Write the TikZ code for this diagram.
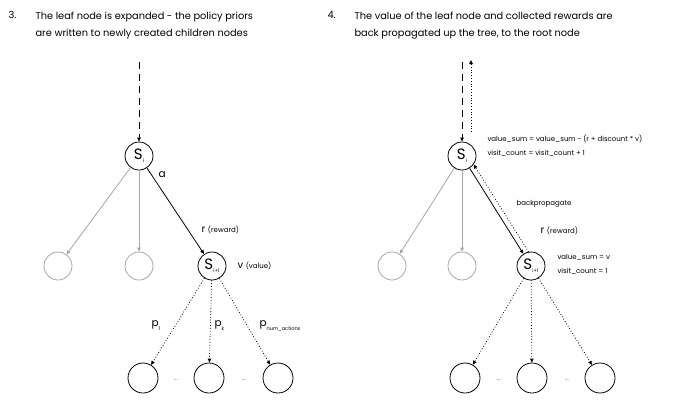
\documentclass[tikz,border=0pt]{standalone}
\usepackage{fontspec}
\setmainfont{Poppins}
\usetikzlibrary{arrows.meta}

\begin{document}
\begin{tikzpicture}[x=1pt, y=-1pt,
    state/.style={circle, draw=black, thick, minimum size=28pt, inner sep=0pt, font=\fontsize{15}{15}\selectfont},
    ghost/.style={circle, draw=gray!70, thick, minimum size=28pt, inner sep=0pt},
    leaf/.style={circle, draw=black, thick, minimum size=30pt, inner sep=0pt},
    tip/.style={-{Triangle[length=4pt, width=3.5pt]}},
    title/.style={anchor=north west, align=left, font=\fontsize{9.8}{17}\selectfont},
    note/.style={anchor=west, font=\fontsize{7}{9}\selectfont},
    big/.style={anchor=west, font=\fontsize{10.5}{10}\selectfont},
    every node/.append style={text=black}]

    \useasboundingbox (0,0) rectangle (700,408);

    % step 3
    \node[title] (n3) at (5,8) {3.};
    \node[title] (t3) at (32,8) {The leaf node is expanded - the policy priors\\
        are written to newly created children nodes};

    \coordinate (top1) at (139,62);
    \node[state] (si1) at (139,156) {S\raisebox{-3pt}{\tiny i}};
    \node[ghost] (g1) at (58,266) {};
    \node[ghost] (g2) at (139,266) {};
    \node[state] (sn1) at (212,266) {S\raisebox{-3pt}{\tiny i+1}};

    \draw[thick, dashed, dash pattern=on 7pt off 5pt, tip] (top1) -- (si1);
    \draw[gray!70, thick, tip] (si1) -- (g1);
    \draw[gray!70, thick, tip] (si1) -- (g2);
    \draw[thick, tip] (si1) -- (sn1);

    \node[big] (a1) at (155,175) {a};
    \node[note] (r1) at (198,230) {\fontsize{10}{10}\selectfont r \fontsize{7}{9}\selectfont(reward)};
    \node[note] (v1) at (234,266) {\fontsize{10}{10}\selectfont v \fontsize{7}{9}\selectfont(value)};

    \node[leaf] (c1) at (143,378) {};
    \node[leaf] (c2) at (209,378) {};
    \node[leaf] (c3) at (278,378) {};
    \node (d1) at (176,380) {\tiny ...};
    \node (d2) at (244,380) {\tiny ...};

    \draw[thick, dotted, tip] (sn1) -- (c1);
    \draw[thick, dotted, tip] (sn1) -- (c2);
    \draw[thick, dotted, tip] (sn1) -- (c3);

    \node[big] (p1) at (148,326) {p\raisebox{-4pt}{\tiny 1}};
    \node[big] (pk) at (211,326) {p\raisebox{-4pt}{\tiny k}};
    \node[big] (pn) at (256,326) {p\raisebox{-4pt}{\tiny num\_actions}};

    % step 4
    \node[title] (n4) at (324,8) {4.};
    \node[title] (t4) at (351,8) {The value of the leaf node and collected rewards are\\
        back propagated up the tree, to the root node};

    \coordinate (top2) at (462,62);
    \coordinate (up2) at (471,60);
    \coordinate (foot2) at (471,132);
    \node[state] (si2) at (462,156) {S\raisebox{-3pt}{\tiny i}};
    \node[ghost] (g3) at (392,266) {};
    \node[ghost] (g4) at (462,266) {};
    \node[state] (sn2) at (531,266) {S\raisebox{-3pt}{\tiny i+1}};

    \draw[thick, dashed, dash pattern=on 7pt off 5pt, tip] (top2) -- (si2);
    \draw[thick, dotted, tip] (foot2) -- (up2);
    \draw[gray!70, thick, tip] (si2) -- (g3);
    \draw[gray!70, thick, tip] (si2) -- (g4);
    \draw[thick, tip] (si2) -- (sn2);
    \draw[thick, dotted, tip] (sn2.100) -- (si2.-36);

    \node[note] (vs2) at (484,139) {value\_sum = value\_sum - (r + discount * v)};
    \node[note] (vc2) at (484,153) {visit\_count = visit\_count + 1};
    \node[note] (bp) at (513,204) {backpropagate};
    \node[note] (r2) at (537,231) {\fontsize{10}{10}\selectfont r \fontsize{7}{9}\selectfont(reward)};
    \node[note] (vs3) at (554,257) {value\_sum = v};
    \node[note] (vc3) at (554,271) {visit\_count = 1};

    \node[leaf] (c4) at (465,378) {};
    \node[leaf] (c5) at (532,378) {};
    \node[leaf] (c6) at (600,378) {};
    \node (d3) at (499,380) {\tiny ...};
    \node (d4) at (567,380) {\tiny ...};

    \draw[thick, dotted, tip] (sn2) -- (c4);
    \draw[thick, dotted, tip] (sn2) -- (c5);
    \draw[thick, dotted, tip] (sn2) -- (c6);
\end{tikzpicture}
\end{document}
